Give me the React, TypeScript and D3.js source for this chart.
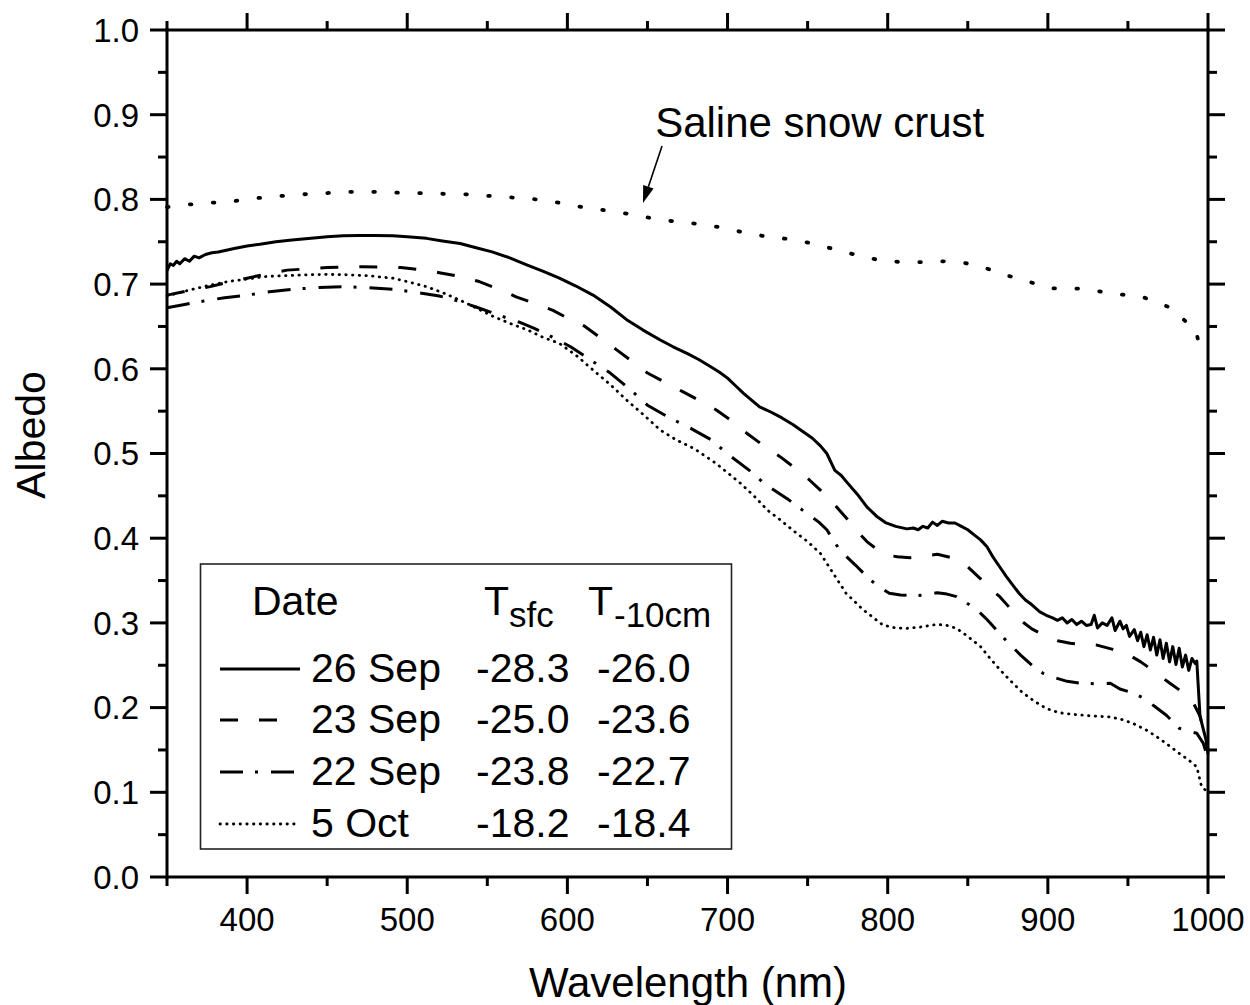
import React from 'react';
import * as d3 from 'd3';

// ---------- data ----------
const crustNm = [350, 364, 378, 392, 406, 421, 435, 450, 464, 478, 493, 515, 537, 560, 581, 595, 609, 624, 638, 652, 667, 682, 696, 710, 725, 739, 753, 765, 779, 793, 808, 822, 836, 848, 861, 873, 888, 901, 913, 926, 938, 950, 959, 968, 977, 986, 992, 995, 1000];
const crustAlb = [0.791, 0.794, 0.796, 0.798, 0.8015, 0.804, 0.806, 0.8075, 0.809, 0.809, 0.808, 0.807, 0.806, 0.803, 0.8, 0.796, 0.791, 0.787, 0.783, 0.778, 0.774, 0.771, 0.767, 0.761, 0.756, 0.753, 0.748, 0.742, 0.735, 0.729, 0.726, 0.726, 0.727, 0.725, 0.719, 0.711, 0.703, 0.695, 0.695, 0.694, 0.689, 0.687, 0.685, 0.678, 0.672, 0.656, 0.648, 0.625, 0.62];

const sep26Nm = [350, 352, 354, 356, 358, 361, 364, 367, 370, 374, 378, 382, 387, 392, 400, 408, 418, 428, 440, 450, 460, 470, 480, 491, 500, 512, 522, 533, 543, 553, 564, 575, 585, 595, 605, 616, 627, 637, 647, 658, 666, 675, 682, 689, 695, 700, 705, 710, 715, 720, 727, 734, 741, 747, 753, 758, 762, 765, 767, 771, 775, 781, 787, 793, 799, 805, 812, 816, 819, 822, 825, 828, 831, 834, 838, 842, 846, 850, 854, 858, 862, 866, 870, 874, 878, 882, 886, 889, 892, 895, 899, 903, 906, 909, 912, 915, 918, 921, 924, 927, 929, 931, 934, 937, 940, 942, 945, 947, 949, 951, 954, 956, 958, 960, 962, 964, 966, 968, 970, 972, 974, 976, 978, 980, 982, 984, 986, 988, 990, 992, 993, 995, 997, 999, 1000];
const sep26Alb = [0.716, 0.724, 0.722, 0.727, 0.724, 0.73, 0.727, 0.733, 0.731, 0.735, 0.737, 0.738, 0.74, 0.742, 0.745, 0.747, 0.75, 0.752, 0.754, 0.756, 0.757, 0.7575, 0.7575, 0.757, 0.756, 0.754, 0.751, 0.748, 0.743, 0.738, 0.731, 0.7225, 0.715, 0.707, 0.698, 0.687, 0.673, 0.658, 0.646, 0.634, 0.626, 0.618, 0.611, 0.603, 0.596, 0.589, 0.58, 0.571, 0.563, 0.555, 0.549, 0.542, 0.534, 0.526, 0.518, 0.509, 0.5, 0.488, 0.48, 0.474, 0.465, 0.452, 0.437, 0.426, 0.418, 0.414, 0.411, 0.412, 0.41, 0.414, 0.412, 0.419, 0.415, 0.42, 0.418, 0.418, 0.414, 0.41, 0.404, 0.398, 0.39, 0.377, 0.366, 0.355, 0.345, 0.335, 0.327, 0.323, 0.318, 0.313, 0.309, 0.306, 0.303, 0.306, 0.3, 0.304, 0.298, 0.302, 0.297, 0.298, 0.309, 0.294, 0.3, 0.297, 0.306, 0.291, 0.302, 0.293, 0.297, 0.284, 0.292, 0.279, 0.289, 0.272, 0.286, 0.268, 0.283, 0.262, 0.28, 0.258, 0.276, 0.254, 0.272, 0.251, 0.27, 0.248, 0.262, 0.244, 0.258, 0.252, 0.255, 0.19, 0.175, 0.16, 0.145];

const sep23Nm = [350, 363, 377, 390, 400, 412, 425, 438, 450, 462, 472, 484, 496, 508, 520, 533, 545, 557, 568, 580, 591, 600, 611, 621, 631, 641, 650, 661, 672, 683, 693, 703, 712, 722, 733, 742, 751, 760, 768, 775, 781, 787, 794, 800, 806, 814, 822, 831, 840, 849, 858, 866, 870, 877, 883, 890, 898, 906, 914, 922, 930, 940, 949, 958, 968, 976, 985, 991, 995, 997, 1000];
const sep23Alb = [0.687, 0.692, 0.697, 0.703, 0.707, 0.712, 0.7165, 0.718, 0.7195, 0.72, 0.7205, 0.72, 0.7195, 0.717, 0.7135, 0.709, 0.703, 0.694, 0.685, 0.677, 0.669, 0.66, 0.65, 0.636, 0.622, 0.608, 0.595, 0.584, 0.573, 0.562, 0.5514, 0.538, 0.524, 0.51, 0.496, 0.483, 0.469, 0.453, 0.437, 0.422, 0.408, 0.396, 0.386, 0.38, 0.378, 0.377, 0.379, 0.381, 0.377, 0.368, 0.352, 0.337, 0.331, 0.316, 0.303, 0.293, 0.285, 0.279, 0.276, 0.274, 0.274, 0.269, 0.264, 0.254, 0.2405, 0.229, 0.217, 0.205, 0.19, 0.175, 0.15];

const sep22Nm = [350, 361, 373, 386, 400, 414, 429, 445, 460, 475, 491, 506, 520, 532, 543, 552, 560, 570, 579, 590, 602, 614, 627, 639, 650, 663, 677, 690, 701, 713, 724, 737, 749, 757, 762, 766, 770, 780, 789, 795, 801, 808, 816, 823, 831, 837, 843, 849, 856, 862, 868, 875, 883, 890, 897, 905, 912, 920, 930, 939, 945, 952, 960, 967, 974, 982, 988, 993, 997, 1000];
const sep22Alb = [0.672, 0.676, 0.68, 0.684, 0.687, 0.691, 0.694, 0.696, 0.697, 0.6957, 0.694, 0.69, 0.686, 0.68, 0.673, 0.667, 0.6615, 0.655, 0.648, 0.638, 0.626, 0.611, 0.5947, 0.576, 0.557, 0.543, 0.5297, 0.516, 0.498, 0.481, 0.463, 0.447, 0.43, 0.419, 0.41, 0.398, 0.386, 0.368, 0.351, 0.342, 0.335, 0.333, 0.332, 0.333, 0.3357, 0.334, 0.331, 0.324, 0.315, 0.304, 0.2916, 0.277, 0.262, 0.25, 0.2405, 0.235, 0.231, 0.229, 0.228, 0.2287, 0.222, 0.218, 0.211, 0.201, 0.191, 0.1756, 0.172, 0.1697, 0.158, 0.14];

const oct5Nm = [350, 362, 375, 388, 400, 412, 425, 438, 450, 462, 475, 491, 502, 512, 522, 533, 543, 554, 565, 575, 585, 595, 606, 616, 627, 637, 648, 658, 668, 679, 693, 708, 717, 725, 733, 741, 750, 758, 766, 774, 785, 797, 805, 812, 820, 831, 837, 843, 850, 858, 864, 870, 877, 884, 892, 899, 907, 916, 928, 939, 946, 953, 961, 968, 975, 982, 988, 993, 996, 1000];
const oct5Alb = [0.686, 0.692, 0.698, 0.703, 0.706, 0.709, 0.71, 0.711, 0.7115, 0.711, 0.71, 0.707, 0.702, 0.697, 0.69, 0.681, 0.672, 0.6615, 0.653, 0.646, 0.637, 0.63, 0.615, 0.5986, 0.581, 0.563, 0.545, 0.5277, 0.516, 0.506, 0.488, 0.465, 0.449, 0.433, 0.4215, 0.409, 0.396, 0.382, 0.3585, 0.335, 0.315, 0.2975, 0.294, 0.2936, 0.295, 0.2983, 0.297, 0.2936, 0.284, 0.272, 0.258, 0.245, 0.231, 0.218, 0.207, 0.199, 0.194, 0.192, 0.19, 0.189, 0.186, 0.1815, 0.174, 0.1656, 0.156, 0.146, 0.138, 0.13, 0.1066, 0.1];

const legendDates = ['26 Sep', '23 Sep', '22 Sep', '5 Oct'];
const legendTsfc = ['-28.3', '-25.0', '-23.8', '-18.2'];
const legendT10 = ['-26.0', '-23.6', '-22.7', '-18.4'];

const xMajorTicks = [400, 500, 600, 700, 800, 900, 1000];
const xMinorTicks = [350, 450, 550, 650, 750, 850, 950];
const yMajorTicks = [0, 0.1, 0.2, 0.3, 0.4, 0.5, 0.6, 0.7, 0.8, 0.9, 1.0];
const yMinorTicks = [0.05, 0.15, 0.25, 0.35, 0.45, 0.55, 0.65, 0.75, 0.85, 0.95];

const annotationText = 'Saline snow crust';
const annotationTextPos: [number, number] = [654.8, 0.8737];
const arrowTail: [number, number] = [659.1, 0.863];
const arrowTip: [number, number] = [647.2, 0.7958];

const FONT = '"Liberation Sans", Arial, Helvetica, sans-serif';

const zip = (a: number[], b: number[]): [number, number][] => a.map((v, i) => [v, b[i]]);

export default function App() {
  const W = 1250, H = 1005;
  const x = d3.scaleLinear().domain([350, 1000]).range([167, 1208]);
  const y = d3.scaleLinear().domain([0, 1]).range([877, 30]);
  const line = d3.line<[number, number]>().x(d => x(d[0])).y(d => y(d[1]));

  const series = [
    { key: 'crust', d: zip(crustNm, crustAlb), sw: 3.8, dash: '1.6,21.4', cap: 'round' },
    { key: 'sep26', d: zip(sep26Nm, sep26Alb), sw: 3, dash: null, cap: 'butt' },
    { key: 'sep23', d: zip(sep23Nm, sep23Alb), sw: 3, dash: '18,21', cap: 'butt' },
    { key: 'sep22', d: zip(sep22Nm, sep22Alb), sw: 3, dash: '23,12,3,13', cap: 'butt' },
    { key: 'oct5', d: zip(oct5Nm, oct5Alb), sw: 2.8, dash: '0.4,6.3', cap: 'round' },
  ];
  const legendStyles = series.slice(1);
  const legendLineEnd = [300, 296, 294, 295];

  const x0 = x(350), x1 = x(1000), y0 = y(0), y1 = y(1);
  const MAJ = 17, MIN = 9, AW = 3;

  // arrow geometry
  const tx = x(arrowTail[0]), ty = y(arrowTail[1]);
  const hx = x(arrowTip[0]), hy = y(arrowTip[1]);
  const ang = Math.atan2(hy - ty, hx - tx);
  const aLen = 17, aHalf = 5.5;
  const bx = hx - aLen * Math.cos(ang), by = hy - aLen * Math.sin(ang);
  const px = -Math.sin(ang) * aHalf, py = Math.cos(ang) * aHalf;

  // legend layout
  const LX = 200.5, LY = 564, LW = 531, LH = 285;
  const rowBase = [682, 733, 785, 837];

  return (
    <svg width={W} height={H} style={{ position: 'absolute', left: 0, top: 0, background: '#fff' }}
      fontFamily={FONT}>
      <rect x={0} y={0} width={W} height={H} fill="#fff" />
      {series.map(s => (
        <path key={s.key} d={line(s.d) || ''} fill="none" stroke="#000" strokeWidth={s.sw}
          strokeDasharray={s.dash || undefined} strokeLinecap={s.cap as any} strokeLinejoin="round" />
      ))}

      <g stroke="#000" strokeWidth={AW} strokeLinecap="square">
        <line x1={x0} y1={y0} x2={x1} y2={y0} />
        <line x1={x0} y1={y1} x2={x1} y2={y1} />
        <line x1={x0} y1={y0} x2={x0} y2={y1} />
        <line x1={x1} y1={y0} x2={x1} y2={y1} />
      </g>
      <g stroke="#000" strokeWidth={AW}>
        {xMajorTicks.map(t => (
          <g key={'xM' + t}>
            <line x1={x(t)} x2={x(t)} y1={y0} y2={y0 + MAJ} />
            <line x1={x(t)} x2={x(t)} y1={y1} y2={y1 - MAJ} />
          </g>
        ))}
        {xMinorTicks.map(t => (
          <g key={'xm' + t}>
            <line x1={x(t)} x2={x(t)} y1={y0} y2={y0 + MIN} />
            <line x1={x(t)} x2={x(t)} y1={y1} y2={y1 - MIN} />
          </g>
        ))}
        {yMajorTicks.map(t => (
          <g key={'yM' + t}>
            <line x1={x0} x2={x0 - MAJ} y1={y(t)} y2={y(t)} />
            <line x1={x1} x2={x1 + MAJ} y1={y(t)} y2={y(t)} />
          </g>
        ))}
        {yMinorTicks.map(t => (
          <g key={'ym' + t}>
            <line x1={x0} x2={x0 - MIN} y1={y(t)} y2={y(t)} />
            <line x1={x1} x2={x1 + MIN} y1={y(t)} y2={y(t)} />
          </g>
        ))}
      </g>
      <g fontSize={33} fill="#000">
        {xMajorTicks.map(t => (
          <text key={'xl' + t} x={x(t)} y={931} textAnchor="middle">{t}</text>
        ))}
        {yMajorTicks.map(t => (
          <text key={'yl' + t} x={139} y={y(t)} dy="0.36em" textAnchor="end">{t.toFixed(1)}</text>
        ))}
      </g>
      <text x={688} y={997} fontSize={42} textAnchor="middle" fill="#000">Wavelength (nm)</text>
      <text transform="translate(45,435) rotate(-90)" fontSize={41} textAnchor="middle" fill="#000">Albedo</text>

      <text x={x(annotationTextPos[0])} y={y(annotationTextPos[1])} fontSize={42} fill="#000">{annotationText}</text>
      <line x1={tx} y1={ty} x2={bx} y2={by} stroke="#000" strokeWidth={1.6} />
      <polygon points={`${hx},${hy} ${bx + px},${by + py} ${bx - px},${by - py}`} fill="#000" />

      <rect x={LX} y={LY} width={LW} height={LH} fill="#fff" stroke="#222" strokeWidth={1.6} />
      <g fontSize={41} fill="#000">
        <text x={252} y={615}>Date</text>
        <text x={484} y={615}>T</text>
        <text x={509} y={627} fontSize={35}>sfc</text>
        <text x={588} y={615}>T</text>
        <text x={614} y={627} fontSize={35}>-10cm</text>
        {legendDates.map((d, i) => (
          <g key={d}>
            <line x1={220} x2={legendLineEnd[i]} y1={rowBase[i] - 13} y2={rowBase[i] - 13} stroke="#000"
              strokeWidth={legendStyles[i].sw} strokeDasharray={legendStyles[i].dash || undefined}
              strokeLinecap={legendStyles[i].cap as any} />
            <text x={311} y={rowBase[i]}>{d}</text>
            <text x={476} y={rowBase[i]}>{legendTsfc[i]}</text>
            <text x={597} y={rowBase[i]}>{legendT10[i]}</text>
          </g>
        ))}
      </g>
    </svg>
  );
}
